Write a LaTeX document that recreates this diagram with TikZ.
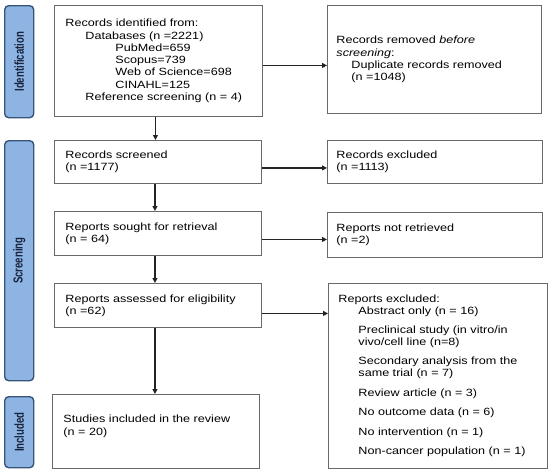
\documentclass[tikz,border=0pt]{standalone}
\usepackage{fontspec}
\setmainfont[FakeStretch=1.2]{Liberation Sans}
\newfontfamily\sidefont[FakeStretch=0.74]{Liberation Sans}
\usetikzlibrary{arrows.meta}
\definecolor{barfill}{RGB}{141,180,226}
\definecolor{barline}{RGB}{55,85,120}
\definecolor{sidetext}{RGB}{25,35,60}
\definecolor{boxline}{RGB}{105,105,105}
\definecolor{arrowcol}{RGB}{35,35,35}
\begin{document}
\begin{tikzpicture}[x=1pt,y=-1pt,
  bar/.style={draw=barline, fill=barfill, line width=1.4pt, rounded corners=4pt, minimum width=29pt, anchor=north west, inner sep=0pt},
  sidelabel/.style={rotate=90, text=sidetext, font=\sidefont\bfseries\fontsize{13}{14}\selectfont},
  box/.style={draw=boxline, line width=0.9pt, align=left, anchor=north west, inner ysep=0pt, font=\fontsize{10.5}{12.3}\selectfont},
  arr/.style={draw=arrowcol, line width=1.1pt, -{Triangle[length=5pt,width=5pt]}}
]
\useasboundingbox (0,0) rectangle (550,474);

% side bars
\node[bar, minimum height=112pt] (b1) at (4,5) {};
\node[sidelabel] (l1) at (b1.center) {Identification};
\node[bar, minimum height=240pt] (b2) at (4,140) {};
\node[sidelabel] (l2) at (b2.center) {Screening};
\node[bar, minimum height=71pt] (b3) at (4,396) {};
\node[sidelabel] (l3) at (b3.center) {Included};

% left column
\node[box, inner xsep=11pt, text width=186pt, minimum width=208pt, minimum height=111pt] (id) at (54,5)
 {Records identified from:\\
  \hspace*{20pt}Databases (n =2221)\\
  \hspace*{50pt}PubMed=659\\
  \hspace*{50pt}Scopus=739\\
  \hspace*{50pt}Web of Science=698\\
  \hspace*{50pt}CINAHL=125\\
  \hspace*{20pt}Reference screening (n = 4)};
\node[box, inner xsep=11pt, text width=185pt, minimum width=207pt, minimum height=43pt] (scr) at (54,140)
 {Records screened\\(n =1177)};
\node[box, inner xsep=11pt, text width=185pt, minimum width=207pt, minimum height=44pt] (sought) at (54,211)
 {Reports sought for retrieval\\(n = 64)};
\node[box, inner xsep=11pt, text width=185pt, minimum width=207pt, minimum height=44pt] (elig) at (54,283)
 {Reports assessed for eligibility\\(n =62)};
\node[box, inner xsep=11pt, text width=185pt, minimum width=207pt, minimum height=74pt] (incl) at (52,394)
 {Studies included in the review\\(n = 20)\\\mbox{}};

% right column
\node[box, inner xsep=9pt, text width=196pt, minimum width=214pt, minimum height=108pt] (dup) at (327,5)
 {Records removed \textit{before}\\
  \textit{screening}:\\
  \hspace*{15pt}Duplicate records removed\\
  \hspace*{15pt}(n =1048)};
\node[box, inner xsep=9pt, text width=197pt, minimum width=215pt, minimum height=43pt] (rexc) at (327,140)
 {Records excluded\\(n =1113)};
\node[box, inner xsep=9pt, text width=197pt, minimum width=215pt, minimum height=45pt] (notr) at (327,212)
 {Reports not retrieved\\(n =2)};
\node[box, inner xsep=10pt, text width=199pt, minimum width=219pt, minimum height=185pt,
      font=\fontsize{10.5}{11.6}\selectfont] (rexcl) at (328,283)
 {Reports excluded:\\
  \hspace*{20pt}Abstract only (n = 16)\\[8pt]
  \hspace*{20pt}Preclinical study (in vitro/in\\
  \hspace*{20pt}vivo/cell line (n=8)\\[8pt]
  \hspace*{20pt}Secondary analysis from the\\
  \hspace*{20pt}same trial (n = 7)\\[8pt]
  \hspace*{20pt}Review article (n = 3)\\[8pt]
  \hspace*{20pt}No outcome data (n = 6)\\[8pt]
  \hspace*{20pt}No intervention (n = 1)\\[8pt]
  \hspace*{20pt}Non-cancer population (n = 1)};

% vertical arrows
\draw[arr] ([xshift=-3pt]id.south) -- ([xshift=-3pt]id.south |- scr.north);
\draw[arr] ([xshift=-3pt]scr.south) -- ([xshift=-3pt]scr.south |- sought.north);
\draw[arr] ([xshift=-3pt]sought.south) -- ([xshift=-3pt]sought.south |- elig.north);
\draw[arr] ([xshift=-3pt]elig.south) -- ([xshift=-3pt]elig.south |- incl.north);

% horizontal arrows
\draw[arr] ([yshift=-4.5pt]id.east) -- ([yshift=-4.5pt]id.east -| dup.west);
\draw[arr] ([yshift=-6pt]scr.east) -- ([yshift=-6pt]scr.east -| rexc.west);
\draw[arr] ([yshift=-6pt]sought.east) -- ([yshift=-6pt]sought.east -| notr.west);
\draw[arr] ([yshift=-8pt]elig.east) -- ([yshift=-8pt]elig.east -| rexcl.west);
\end{tikzpicture}
\end{document}
